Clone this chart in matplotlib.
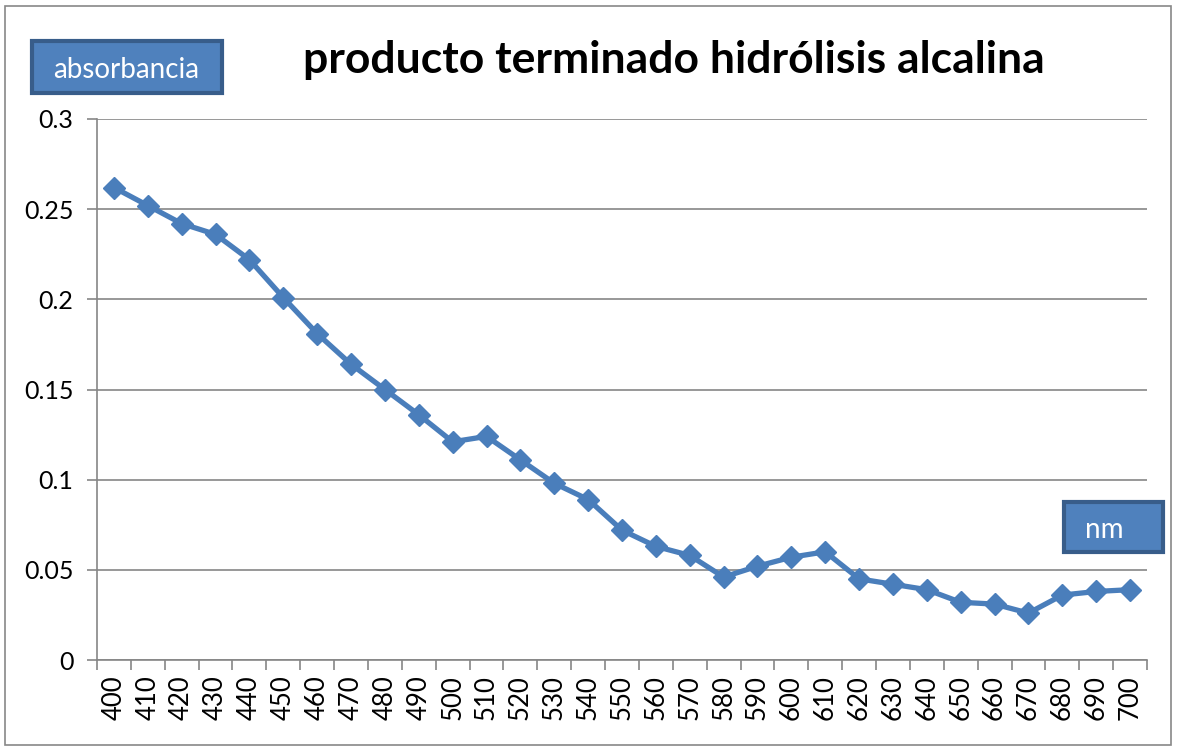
import matplotlib
matplotlib.use('Agg')
import matplotlib.pyplot as plt
from matplotlib.patches import Rectangle

# wavelength (nm) and absorbance
wavelengths = [400, 410, 420, 430, 440, 450, 460, 470, 480, 490, 500,
               510, 520, 530, 540, 550, 560, 570, 580, 590, 600,
               610, 620, 630, 640, 650, 660, 670, 680, 690, 700]
absorbance = [0.262, 0.252, 0.242, 0.236, 0.222, 0.201, 0.181, 0.164, 0.150, 0.136, 0.121,
              0.124, 0.111, 0.098, 0.089, 0.072, 0.063, 0.058, 0.046, 0.052, 0.057,
              0.060, 0.045, 0.042, 0.039, 0.032, 0.031, 0.026, 0.036, 0.038, 0.039]
y_ticks = [0, 0.05, 0.1, 0.15, 0.2, 0.25, 0.3]
y_labels = ['0', '0.05', '0.1', '0.15', '0.2', '0.25', '0.3']

plt.rcParams['font.family'] = ['Lato', 'DejaVu Sans']

W, H, dpi = 1177, 750, 100
fig = plt.figure(figsize=(W / dpi, H / dpi), dpi=dpi)


def px_rect(x0, y0, x1, y1, **kw):
    # rectangle given in pixel coords from the top-left corner
    r = Rectangle((x0 / W, 1 - y1 / H), (x1 - x0) / W, (y1 - y0) / H,
                  transform=fig.transFigure, **kw)
    fig.patches.append(r)


# outer chart border
px_rect(5, 6, 1171, 745, fill=False, edgecolor='#878787', linewidth=1.2)

ax = fig.add_axes([97 / W, 1 - 660 / H, (1147 - 97) / W, (660 - 119) / H])

grey = '#868686'
xs = list(range(len(wavelengths)))
ax.plot(xs, absorbance, color='#4A7EBB', linewidth=3.8, marker='D', markersize=11.5,
        markerfacecolor='#4A7EBB', markeredgecolor='#4A7EBB', zorder=3)

ax.set_xlim(-0.5, len(wavelengths) - 0.5)
ax.set_ylim(0, 0.3)

# category axis: tick marks between categories, labels centred
ax.set_xticks([i - 0.5 for i in range(len(wavelengths) + 1)])
ax.set_xticklabels([])
ax.set_xticks(xs, minor=True)
ax.set_xticklabels([str(w) for w in wavelengths], minor=True, rotation=90, fontsize=18.5)
ax.tick_params(axis='x', which='major', length=7, color=grey, width=1.2)
ax.tick_params(axis='x', which='minor', length=0, pad=11)

ax.set_yticks(y_ticks)
ax.set_yticklabels(y_labels, fontsize=18)
ax.tick_params(axis='y', length=7, color=grey, width=1.2, pad=10)

ax.grid(axis='y', color=grey, linewidth=1.2)
ax.set_axisbelow(True)
for side in ['top', 'right']:
    ax.spines[side].set_visible(False)
for side in ['left', 'bottom']:
    ax.spines[side].set_color(grey)
    ax.spines[side].set_linewidth(1.2)

fig.text(674 / W, 1 - 60 / H, 'producto terminado hidrólisis alcalina',
         fontsize=32, fontweight='bold', ha='center', va='center')

# label boxes
px_rect(32, 41, 222, 93, facecolor='#4F81BD', edgecolor='#385D8A', linewidth=3)
fig.text(126 / W, 1 - 70 / H, 'absorbancia', fontsize=20, color='white',
         ha='center', va='center')
px_rect(1064, 502, 1163, 552, facecolor='#4F81BD', edgecolor='#385D8A', linewidth=3)
fig.text(1104 / W, 1 - 530 / H, 'nm', fontsize=20, color='white',
         ha='center', va='center')

fig.savefig('out.png', dpi=dpi)
plt.close(fig)
